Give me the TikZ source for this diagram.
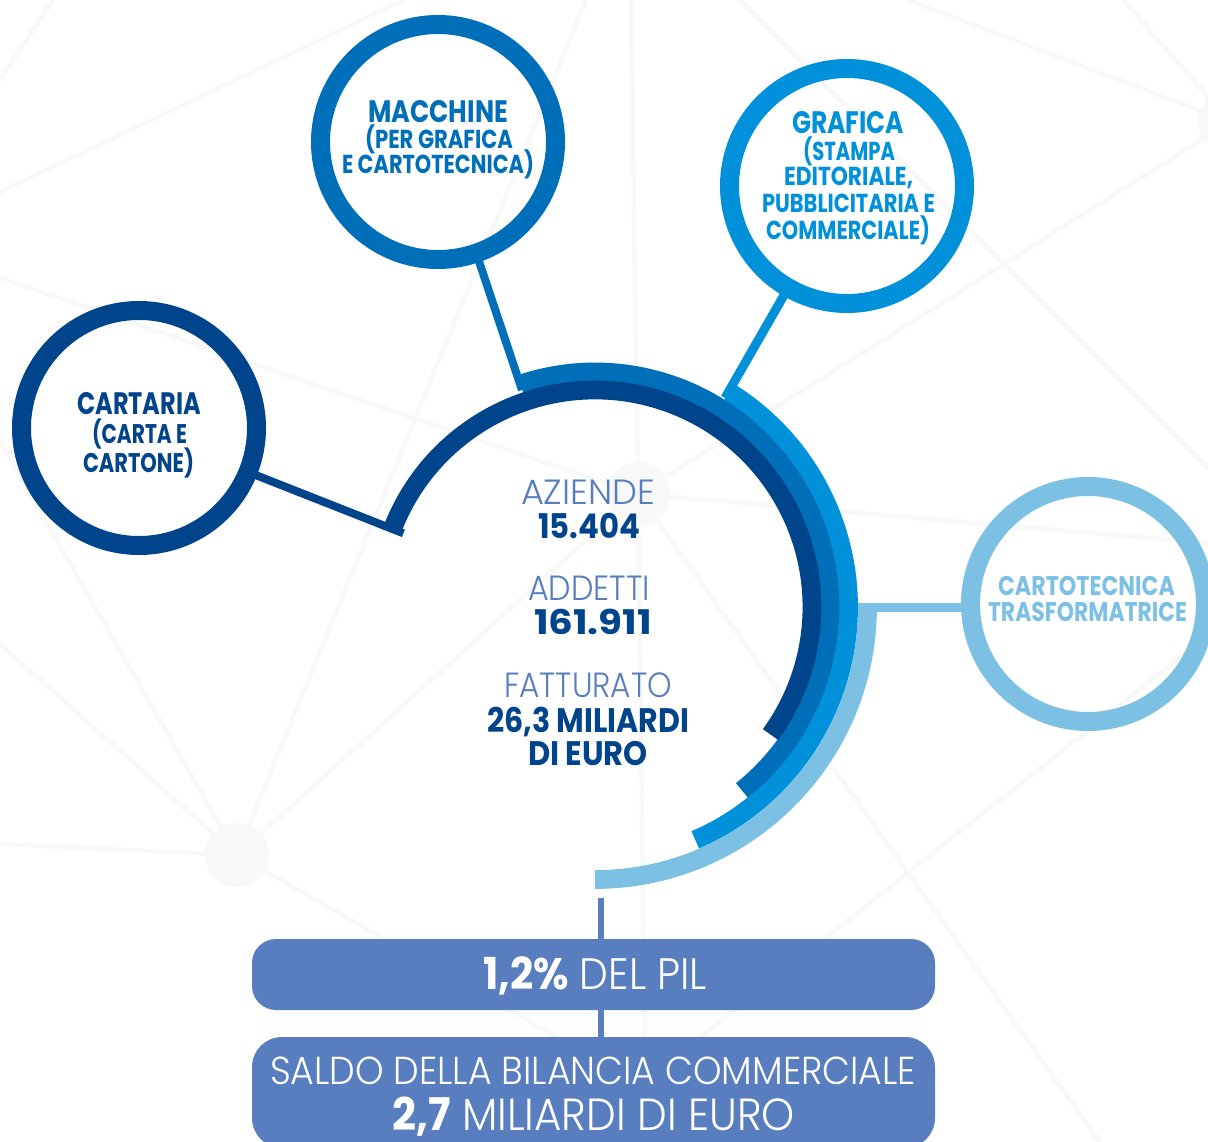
\documentclass[tikz,border=0pt]{standalone}
\usepackage{fontspec}
\usepackage{graphicx}
\newfontfamily\heavyf{Poppins}[UprightFont=* Bold]
\newfontfamily\lightf{Poppins}[UprightFont=* Light]
\definecolor{cdark}{HTML}{00448C}
\definecolor{cmid}{HTML}{006FB9}
\definecolor{cblue}{HTML}{0091DA}
\definecolor{clight}{HTML}{7CC0E4}
\definecolor{cbox}{HTML}{587EBF}
\definecolor{cbg}{HTML}{F8F8F8}
\newsavebox\tbx
\newcommand{\fittext}[2]{\sbox\tbx{#2}\pgfmathsetmacro\rr{#1/\wd\tbx}\scalebox{\rr}[1]{\usebox\tbx}}
\newcommand{\lbl}[6]{\node[lab,#5] (#1) at (#2,-#3-0.7) {\fittext{#4}{#6}};}
\tikzset{
  lab/.style={anchor=base,inner sep=0pt,outer sep=0pt},
  bgline/.style={draw=cbg,line width=4.5pt},
  hub/.style={circle,fill=cbg,minimum size=64pt,inner sep=0pt,outer sep=0pt},
  ringnode/.style={circle,draw=#1,line width=19pt,minimum size=235pt,inner sep=0pt,outer sep=0pt},
  link/.style={draw=#1,line width=8pt},
  band/.style={draw=#1,line width=18.8pt},
  panel/.style={rounded corners=#1,fill=cbox,minimum width=683pt,inner sep=0pt,outer sep=0pt},
  stemline/.style={draw=cbox,line width=6pt},
  b21/.style={font=\heavyf\fontsize{31}{31}\selectfont},
  b18/.style={font=\heavyf\fontsize{26}{26}\selectfont},
  b19/.style={font=\heavyf\fontsize{27}{27}\selectfont},
  bnum/.style={font=\heavyf\fontsize{34}{34}\selectfont,text=cdark},
  lhead/.style={font=\lightf\fontsize{35}{35}\selectfont,text=cbox},
}
\begin{document}
\begin{tikzpicture}[x=1pt,y=1pt]
\useasboundingbox (0,0) rectangle (1208,-1142);
\clip (0,0) rectangle (1208,-1142);
\fill[white] (0,0) rectangle (1208,-1142);
% background network
\node[hub] (h1) at (237,-855) {};
\node[hub] (h2) at (638,-494) {};
\node[hub] (h3) at (1230,-122) {};
\coordinate (a1) at (0,-844);
\coordinate (a2) at (0,-644);
\coordinate (a3) at (0,-441);
\coordinate (a4) at (586,0);
\coordinate (a5) at (650,-1090);
\coordinate (b1) at (631,0);
\coordinate (b2) at (0,-278);
\coordinate (b3) at (1208,-543);
\coordinate (b4) at (1100,-1142);
\coordinate (b5) at (646,-1142);
\coordinate (c1) at (908,0);
\coordinate (c2) at (1123,0);
\coordinate (d1) at (740,0);
\coordinate (d2) at (1208,-468);
\coordinate (e1) at (0,-192);
\coordinate (e2) at (404,0);
\coordinate (f1) at (0,-80);
\coordinate (f2) at (53,0);
\coordinate (g1) at (1215,-630);
\coordinate (g2) at (680,-1053);
\draw[bgline] (h1)--(a1) (h1)--(a2) (h1)--(a3) (h1)--(a4) (h1)--(a5) (h1)--(h2);
\draw[bgline] (h2)--(b1) (h2)--(b2) (h2)--(b3) (h2)--(b4) (h2)--(b5) (h2)--(h3);
\draw[bgline] (h3)--(c1) (h3)--(c2);
\draw[bgline] (d1)--(d2) (e1)--(e2) (f1)--(f2) (g1)--(g2);
% outer circles
\node[ringnode=cdark] (cartaria) at (139,-428) {};
\node[ringnode=cmid] (macchine) at (438,-142) {};
\node[ringnode=cblue] (grafica) at (847,-186) {};
\node[ringnode=clight] (carto) at (1088,-604) {};
% arc centre and connector ends
\coordinate (C) at (595,-607);
\coordinate (endA) at (403.4,-533.3);
\coordinate (endB) at (522,-390);
\coordinate (endC) at (725,-398);
\coordinate (endD) at (857,-607.2);
\draw[link=cdark] (cartaria.-22.4) -- (endA);
\draw[link=cmid] (macchine.-71) -- (endB);
\draw[draw=cblue,line width=9pt] (grafica.-120) -- (endC);
\draw[draw=clight,line width=9pt] (carto.west |- endD) -- (endD);
% concentric bands
\draw[band=clight] ([shift={(-1:272.5pt)}]C) arc[start angle=-1,end angle=-90,radius=272.5pt];
\draw[band=cblue] ([shift={(58:253.5pt)}]C) arc[start angle=58,end angle=-66.7,radius=253.5pt];
\draw[band=cmid] ([shift={(108.5:235pt)}]C) arc[start angle=108.5,end angle=-51.3,radius=235pt];
\draw[band=cdark] ([shift={(159.9:217pt)}]C) arc[start angle=159.9,end angle=-36,radius=217pt];
% bottom panels
\node[panel=24pt,minimum height=71pt] (box1) at (593.5,-974.5) {};
\node[panel=30pt,minimum height=111pt] (box2) at (593.5,-1092.5) {};
\coordinate (stem) at (601,-898);
\draw[stemline] (stem) -- (stem |- box1.north);
\draw[stemline] (stem |- box1.south) -- (stem |- box2.north);
% circle labels
\lbl{t1}{438}{121.7}{140}{b21,text=cmid}{MACCHINE}
\lbl{t2}{439}{148}{148}{b18,text=cmid}{(PER GRAFICA}
\lbl{t3}{438}{172.7}{192}{b18,text=cmid}{E CARTOTECNICA)}
\lbl{t4}{848}{132.7}{112}{b21,text=cblue}{GRAFICA}
\lbl{t5}{849}{160}{92}{b18,text=cblue}{(STAMPA}
\lbl{t6}{848.5}{185.3}{129}{b18,text=cblue}{EDITORIALE,}
\lbl{t7}{848.5}{212.3}{173}{b18,text=cblue}{PUBBLICITARIA E}
\lbl{t8}{848}{238.7}{164}{b18,text=cblue}{COMMERCIALE)}
\lbl{t9}{139}{413.3}{124}{b21,text=cdark}{CARTARIA}
\lbl{t10}{139.5}{442.7}{95}{b19,text=cdark}{(CARTA E}
\lbl{t11}{138.5}{471.7}{111}{b19,text=cdark}{CARTONE)}
\lbl{t12}{1086.5}{594.3}{177}{b19,text=clight}{CARTOTECNICA}
\lbl{t13}{1087.5}{621}{199}{b19,text=clight}{TRASFORMATRICE}
% centre figures
\lbl{t14}{588}{503.5}{134}{lhead}{AZIENDE}
\lbl{t15}{589}{537.5}{102}{bnum}{15.404}
\lbl{t16}{589}{600}{122}{lhead}{ADDETTI}
\lbl{t17}{593}{634}{118}{bnum}{161.911}
\lbl{t18}{588}{697}{168}{lhead}{FATTURATO}
\lbl{t19}{588}{731.4}{202}{bnum}{26,3 MILIARDI}
\lbl{t20}{588}{765}{120}{bnum}{DI EURO}
% panel labels
\lbl{t21}{595}{988.5}{224}{text=white,font=\lightf\fontsize{44}{44}\selectfont}{{\heavyf 1,2\%} DEL PIL}
\lbl{t22}{593}{1083.5}{646}{text=white,font=\lightf\fontsize{39}{39}\selectfont}{SALDO DELLA BILANCIA COMMERCIALE}
\lbl{t23}{593.5}{1129.5}{403}{text=white,font=\lightf\fontsize{45}{45}\selectfont}{{\heavyf 2,7} MILIARDI DI EURO}
\end{tikzpicture}
\end{document}
